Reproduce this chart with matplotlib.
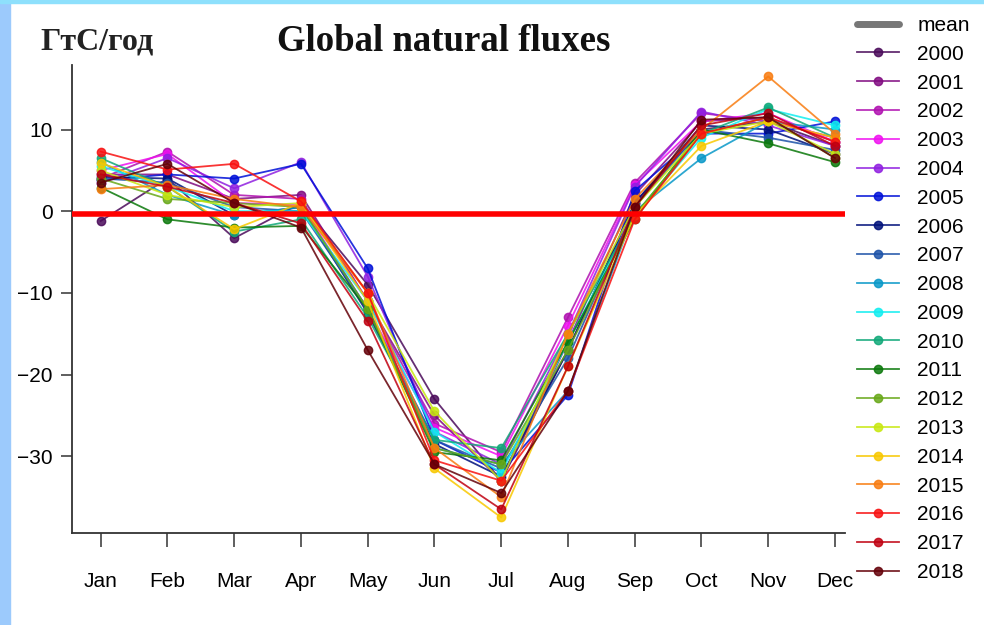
import matplotlib
matplotlib.use('Agg')
import matplotlib.pyplot as plt
from matplotlib.lines import Line2D
from matplotlib.patches import Rectangle

plt.rcParams['font.family'] = ['Liberation Sans Narrow', 'Liberation Sans', 'DejaVu Sans']

months = ['Jan', 'Feb', 'Mar', 'Apr', 'May', 'Jun', 'Jul', 'Aug', 'Sep', 'Oct', 'Nov', 'Dec']
years = [str(y) for y in range(2000, 2019)]
colors = ['#4a0a5a', '#800a80', '#b010b0', '#f010f0', '#9020e0', '#0010d8',
          '#00107a', '#1c52a8', '#0898c8', '#10eef0', '#10a878', '#0a780a',
          '#68a818', '#c8e810', '#f8c800', '#f87c10', '#f81010', '#c00010', '#640008']

fluxes = {
    '2000': [-1.2, 4.0, -3.3, 1.0, -9.0, -23.0, -33.0, -17.0, 1.0, 10.0, 11.0, 8.0],
    '2001': [4.5, 4.5, 1.5, 2.0, -11.0, -25.0, -33.0, -16.0, 2.0, 11.0, 11.5, 8.5],
    '2002': [4.0, 7.3, 2.0, 1.5, -11.0, -26.0, -29.5, -13.0, 3.5, 12.0, 11.0, 9.0],
    '2003': [5.0, 7.0, 1.0, 0.8, -12.0, -26.5, -30.0, -14.0, 3.2, 11.0, 12.0, 8.5],
    '2004': [3.5, 6.5, 2.8, 6.0, -8.0, -27.0, -31.0, -15.0, 3.0, 12.2, 10.5, 8.0],
    '2005': [3.8, 4.5, 4.0, 5.8, -7.0, -28.0, -32.0, -22.5, 2.5, 9.5, 9.5, 11.0],
    '2006': [4.2, 4.0, -0.5, 0.5, -12.5, -28.5, -32.5, -17.0, 1.0, 10.5, 10.0, 7.0],
    '2007': [4.0, 3.5, 0.5, 0.0, -12.0, -28.0, -31.5, -18.0, 0.5, 10.0, 9.0, 7.5],
    '2008': [6.0, 2.0, -0.5, 0.5, -12.0, -29.0, -31.0, -22.0, 0.0, 6.5, 11.0, 10.0],
    '2009': [5.5, 3.0, 0.0, 0.0, -11.0, -27.0, -32.0, -16.0, -0.5, 9.0, 12.5, 10.5],
    '2010': [6.5, 3.0, -2.5, -1.0, -13.0, -28.0, -29.0, -15.0, -0.5, 9.5, 12.7, 9.0],
    '2011': [2.9, -1.0, -2.0, -1.8, -12.0, -29.5, -30.5, -16.0, -1.0, 10.0, 8.3, 6.0],
    '2012': [4.0, 1.5, 1.0, 0.5, -12.0, -29.0, -31.0, -17.0, -0.5, 9.5, 11.5, 6.5],
    '2013': [5.0, 2.0, 0.5, 1.0, -10.0, -24.5, -33.0, -15.0, 0.5, 9.5, 11.0, 7.0],
    '2014': [5.9, 3.0, -2.2, 1.0, -11.0, -31.5, -37.5, -19.0, -0.5, 8.0, 11.0, 9.0],
    '2015': [2.7, 3.2, 1.5, 0.5, -10.0, -29.0, -35.0, -15.0, 1.5, 10.0, 16.5, 9.5],
    '2016': [7.3, 5.1, 5.8, 1.2, -10.0, -30.5, -33.0, -22.0, -1.0, 9.5, 11.5, 8.5],
    '2017': [4.5, 3.0, 1.0, -1.5, -13.5, -31.0, -36.5, -19.0, 0.5, 10.5, 12.0, 8.0],
    '2018': [3.5, 5.8, 1.0, -2.0, -17.0, -31.0, -34.5, -22.0, 0.5, 11.2, 11.5, 6.5],
}
zero_line = -0.3

fig = plt.figure(figsize=(9.84, 6.25), dpi=100)
# light blue frame of the original slide
fig.patches.append(Rectangle((0, 0), 10 / 984, 1, transform=fig.transFigure,
                             color='#9ccafc', zorder=0))
fig.patches.append(Rectangle((0, 1 - 3 / 625), 1, 3 / 625, transform=fig.transFigure,
                             color='#8ee0fc', zorder=0))

ax = fig.add_axes([72 / 984, 1 - 533 / 625, (845 - 72) / 984, (533 - 65) / 625])

x = list(range(len(months)))
for year, c in zip(years, colors):
    ax.plot(x, fluxes[year], color=c, lw=1.3, marker='o', ms=6, alpha=0.85)

ax.axhline(zero_line, color='#ff0000', lw=4, zorder=5)

ax.set_xlim(-0.43, 11.15)
ax.set_ylim(-39.4, 17.9)
ax.set_xticks(x)
ax.set_xticklabels(months)
ax.set_yticks([10, 0, -10, -20, -30])
ax.set_yticklabels(['10', '0', '\u221210', '\u221220', '\u221230'])
for s in ['top', 'right']:
    ax.spines[s].set_visible(False)
for s in ['left', 'bottom']:
    ax.spines[s].set_color('#333333')
    ax.spines[s].set_linewidth(1.3)
ax.tick_params(axis='x', length=10, width=1.1, color='#333333', pad=18, labelsize=15)
ax.tick_params(axis='y', length=8, width=1.1, color='#333333', pad=6, labelsize=15)

fig.text(0.451, 0.933, 'Global natural fluxes', family='Liberation Serif', weight='bold',
         fontsize=26.5, ha='center', va='center', color='#111111')
fig.text(0.041, 0.933, 'ГтС/год', family='Liberation Serif', weight='bold',
         fontsize=23, ha='left', va='center', color='#222222')

handles = [Line2D([], [], color='#777777', lw=5, solid_capstyle='round')]
handles += [Line2D([], [], color=c, lw=1.3, marker='o', ms=6, alpha=0.85) for c in colors]
fig.legend(handles, ['mean'] + years, loc='upper left', bbox_to_anchor=(857 / 984, 1 - 16 / 625),
           frameon=False, fontsize=15, labelspacing=0.47, handlelength=2.0,
           handletextpad=0.9, borderaxespad=0, borderpad=0)

fig.savefig('out.png', dpi=100)
